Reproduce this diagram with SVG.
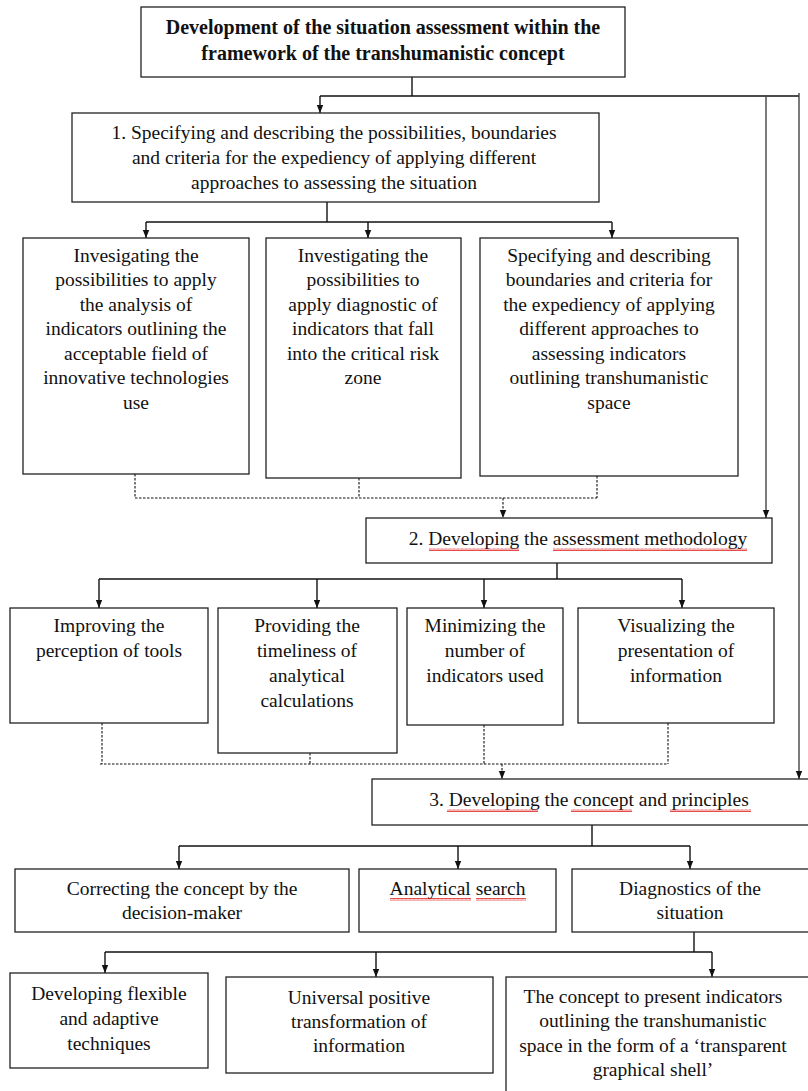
<svg xmlns="http://www.w3.org/2000/svg" width="808" height="1091" viewBox="0 0 808 1091">
<defs>
<style>
.box{fill:#fff;stroke:#222;stroke-width:1.3}
.t{font-family:"Liberation Serif","Times New Roman",serif;font-size:19.5px;fill:#111;text-anchor:middle}
.b{font-weight:bold;font-size:20px}
.ln{fill:none;stroke:#111;stroke-width:1.4}
.gl{fill:none;stroke:#444;stroke-width:1.4}
.ds{fill:none;stroke:#111;stroke-width:1.1;stroke-dasharray:2.5 1.5}
.sq{fill:url(#sq)}
</style>
<marker id="ah" viewBox="0 0 10 10" refX="10" refY="5" markerWidth="8" markerHeight="8" markerUnits="userSpaceOnUse" orient="auto">
<path d="M0,1 L10,5 L0,9 z" fill="#111"/>
</marker>
<pattern id="sq" width="4" height="3" patternUnits="userSpaceOnUse">
<path d="M0,2.5 L1,0.5 L2,2.5 L3,0.5 L4,2.5" fill="none" stroke="#e02020" stroke-width="0.8"/>
</pattern>
</defs>

<g id="connectors">
<path class="ln" d="M412,77 V96"/>
<path class="ln" d="M320,96 H799"/>
<path class="ln" d="M320,96 V113" marker-end="url(#ah)"/>
<path class="gl" d="M766,96 V518" marker-end="url(#ah)"/>
<path class="gl" d="M799,93 V779" marker-end="url(#ah)"/>
<path class="ln" d="M327,202 V222"/>
<path class="ln" d="M146,222 H612"/>
<path class="ln" d="M146,222 V238" marker-end="url(#ah)"/>
<path class="ln" d="M368,222 V238" marker-end="url(#ah)"/>
<path class="ln" d="M612,222 V238" marker-end="url(#ah)"/>
<path class="ds" d="M135,474 V498 M359,478 V498 M597,476 V498 M135,498 H597"/>
<path class="ds" d="M503,498 V518" marker-end="url(#ah)"/>
<path class="ln" d="M557,563 V579"/>
<path class="ln" d="M99,579 H682"/>
<path class="ln" d="M99,579 V608" marker-end="url(#ah)"/>
<path class="ln" d="M317,579 V608" marker-end="url(#ah)"/>
<path class="ln" d="M484,579 V608" marker-end="url(#ah)"/>
<path class="ln" d="M682,579 V608" marker-end="url(#ah)"/>
<path class="ds" d="M102,723 V764 M310,753 V764 M484,725 V764 M668,723 V764 M100,764 H668"/>
<path class="ds" d="M502,764 V779" marker-end="url(#ah)"/>
<path class="ln" d="M592,825 V846"/>
<path class="ln" d="M179,846 H690"/>
<path class="ln" d="M179,846 V869" marker-end="url(#ah)"/>
<path class="ln" d="M458,846 V869" marker-end="url(#ah)"/>
<path class="ln" d="M690,846 V869" marker-end="url(#ah)"/>
<path class="ln" d="M694,932 V952"/>
<path class="ln" d="M105,952 H712"/>
<path class="ln" d="M105,952 V973" marker-end="url(#ah)"/>
<path class="ln" d="M376,952 V977" marker-end="url(#ah)"/>
<path class="ln" d="M712,952 V977" marker-end="url(#ah)"/>
</g>

<g id="n-top">
<rect class="box" x="141" y="7" width="484" height="70"/>
<text class="t b" x="383" y="34">Development of the situation assessment within the</text>
<text class="t b" x="383" y="60">framework of the transhumanistic concept</text>
</g>

<g id="n-step1">
<rect class="box" x="72" y="113" width="527" height="89"/>
<text class="t" x="334" y="138.5">1. Specifying and describing the possibilities, boundaries</text>
<text class="t" x="334" y="163.5">and criteria  for the expediency of applying different</text>
<text class="t" x="334" y="188.5">approaches to assessing the situation</text>
</g>

<g id="n-1a">
<rect class="box" x="23" y="238" width="226" height="236"/>
<text class="t" x="136" y="261.5">Invesigating the</text>
<text class="t" x="136" y="286">possibilities to apply</text>
<text class="t" x="136" y="310.5">the analysis of</text>
<text class="t" x="136" y="335">indicators outlining the</text>
<text class="t" x="136" y="359.5">acceptable field of</text>
<text class="t" x="136" y="384">innovative technologies</text>
<text class="t" x="136" y="408.5">use</text>
</g>

<g id="n-1b">
<rect class="box" x="266" y="238" width="195" height="240"/>
<text class="t" x="363" y="261.5">Investigating the</text>
<text class="t" x="363" y="286">possibilities to</text>
<text class="t" x="363" y="310.5">apply diagnostic of</text>
<text class="t" x="363" y="335">indicators that fall</text>
<text class="t" x="363" y="359.5">into the critical  risk</text>
<text class="t" x="363" y="384">zone</text>
</g>

<g id="n-1c">
<rect class="box" x="480" y="238" width="258" height="238"/>
<text class="t" x="609" y="261.5">Specifying and describing</text>
<text class="t" x="609" y="286">boundaries and criteria for</text>
<text class="t" x="609" y="310.5">the expediency of applying</text>
<text class="t" x="609" y="335">different approaches to</text>
<text class="t" x="609" y="359.5">assessing indicators</text>
<text class="t" x="609" y="384">outlining transhumanistic</text>
<text class="t" x="609" y="408.5">space</text>
</g>

<g id="n-step2">
<rect class="box" x="366" y="518" width="406" height="45"/>
<text class="t" x="578" y="544.5">2. Developing the assessment methodology</text>
<rect class="sq" x="429" y="548" width="90" height="3"/>
<rect class="sq" x="553" y="548" width="194" height="3"/>
</g>

<g id="n-2a">
<rect class="box" x="10" y="608" width="198" height="115"/>
<text class="t" x="109" y="631.5">Improving the</text>
<text class="t" x="109" y="656.5">perception of tools</text>
</g>

<g id="n-2b">
<rect class="box" x="218" y="608" width="179" height="145"/>
<text class="t" x="307" y="631.5">Providing the</text>
<text class="t" x="307" y="656.5">timeliness of</text>
<text class="t" x="307" y="681.5">analytical</text>
<text class="t" x="307" y="706.5">calculations</text>
</g>

<g id="n-2c">
<rect class="box" x="407" y="608" width="156" height="117"/>
<text class="t" x="485" y="631.5">Minimizing the</text>
<text class="t" x="485" y="656.5">number of</text>
<text class="t" x="485" y="681.5">indicators used</text>
</g>

<g id="n-2d">
<rect class="box" x="578" y="608" width="196" height="115"/>
<text class="t" x="676" y="631.5">Visualizing the</text>
<text class="t" x="676" y="656.5">presentation of</text>
<text class="t" x="676" y="681.5">information</text>
</g>

<g id="n-step3">
<rect class="box" x="372" y="779" width="440" height="46"/>
<text class="t" x="589" y="805.5">3. Developing the concept and principles</text>
<rect class="sq" x="447" y="809" width="91" height="3"/>
<rect class="sq" x="571" y="809" width="61" height="3"/>
<rect class="sq" x="670" y="809" width="81" height="3"/>
</g>

<g id="n-3a">
<rect class="box" x="15" y="869" width="334" height="63"/>
<text class="t" x="182" y="894.5">Correcting the concept by the</text>
<text class="t" x="182" y="918.5">decision-maker</text>
</g>

<g id="n-3b">
<rect class="box" x="359" y="869" width="197" height="63"/>
<text class="t" x="457.5" y="894.5">Analytical search</text>
<rect class="sq" x="390" y="898" width="81" height="3"/>
<rect class="sq" x="476" y="898" width="50" height="3"/>
</g>

<g id="n-3c">
<rect class="box" x="572" y="869" width="240" height="63"/>
<text class="t" x="690" y="894.5">Diagnostics of the</text>
<text class="t" x="690" y="918.5">situation</text>
</g>

<g id="n-4a">
<rect class="box" x="10" y="973" width="198" height="95"/>
<text class="t" x="109" y="999.5">Developing flexible</text>
<text class="t" x="109" y="1024.5">and adaptive</text>
<text class="t" x="109" y="1049.5">techniques</text>
</g>

<g id="n-4b">
<rect class="box" x="226" y="977" width="267" height="96"/>
<text class="t" x="359" y="1003.5">Universal positive</text>
<text class="t" x="359" y="1027.5">transformation of</text>
<text class="t" x="359" y="1051.5">information</text>
</g>

<g id="n-4c">
<rect class="box" x="506" y="977" width="310" height="130"/>
<text class="t" x="653" y="1002.5">The concept to present indicators</text>
<text class="t" x="653" y="1026.5">outlining the transhumanistic</text>
<text class="t" x="653" y="1051.5">space in the form of a ‘transparent</text>
<text class="t" x="653" y="1075.5">graphical shell’</text>
</g>
</svg>
